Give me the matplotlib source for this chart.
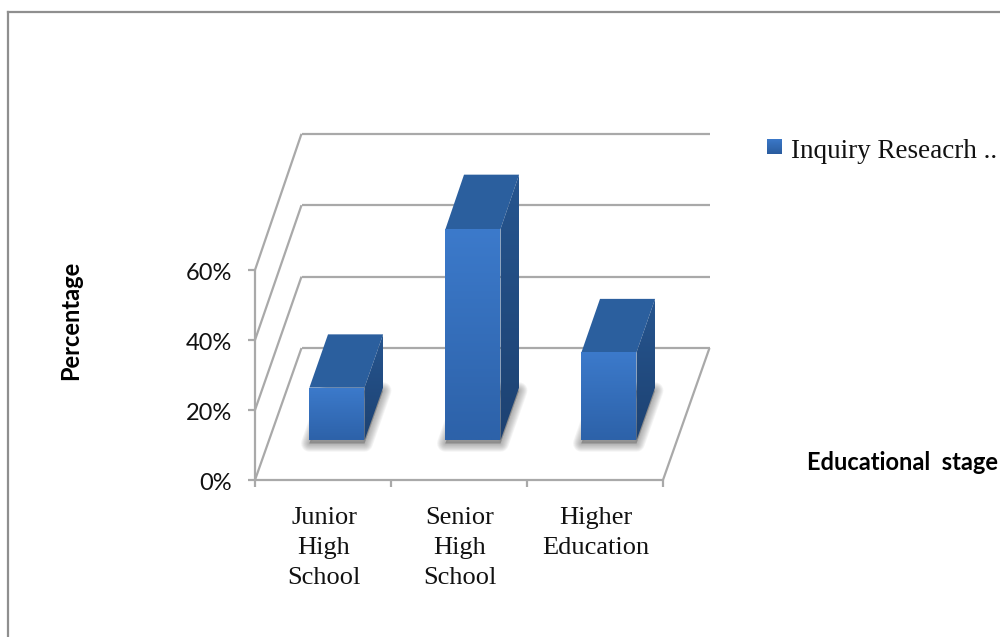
import numpy as np
import matplotlib
matplotlib.use("Agg")
import matplotlib.pyplot as plt
from matplotlib.patches import Polygon

# 教育段階ごとの割合
categories = ["Junior\nHigh\nSchool", "Senior\nHigh\nSchool", "Higher\nEducation"]
values = [15, 60, 25]
y_ticks = [0, 20, 40, 60]
y_tick_labels = ["0%", "20%", "40%", "60%"]
series_name = "Inquiry Reseacrh .."

# 1カテゴリ=136px、1%=3.5px
unit_x = 136.0
unit_y = 3.5
origin_x = 255.0
origin_y = 480.0
W, H = 1000, 637

# 奥行き方向のずれ(px)
depth_x = 46.5
depth_y = 132.0

GRID = "#a9a9a9"
FRAME = "#8f8f8f"

fig = plt.figure(figsize=(W / 100, H / 100), dpi=100)
ax = fig.add_axes([0, 0, 1, 1])
ax.set_xlim(-origin_x / unit_x, (W - origin_x) / unit_x)
ax.set_ylim(-(H - origin_y) / unit_y, origin_y / unit_y)
ax.axis("off")


# (カテゴリ, 値, 奥行き0-1) を軸の座標へ
def proj(c, v, d):
    return c + d * depth_x / unit_x, v * (1 + 0.02 * d) + d * depth_y / unit_y


def px(n):
    return n / unit_x


def py(n):
    return n / unit_y


def line(p1, p2, color=GRID, lw=1.6, z=1):
    ax.plot([p1[0], p2[0]], [p1[1], p2[1]], color=color, lw=lw, zorder=z, solid_capstyle="butt")


# グラデーションを多角形で切り抜いて塗る
def grad_poly(pts, c1, c2, z, horizontal=False):
    pts = np.array(pts)
    n = 64
    g = np.linspace(0, 1, n)
    c1 = np.array(matplotlib.colors.to_rgb(c1))
    c2 = np.array(matplotlib.colors.to_rgb(c2))
    img = c1[None, :] * (1 - g[:, None]) + c2[None, :] * g[:, None]
    img = img[None, :, :] if horizontal else img[:, None, :]
    ext = [pts[:, 0].min(), pts[:, 0].max(), pts[:, 1].min(), pts[:, 1].max()]
    im = ax.imshow(img, extent=ext, origin="upper", aspect="auto", zorder=z, interpolation="bilinear")
    clip = Polygon(pts, closed=True, transform=ax.transData, fc="none", ec="none")
    ax.add_patch(clip)
    im.set_clip_path(clip)


# 外枠
frame_l = px(8) - origin_x / unit_x
frame_t = origin_y / unit_y - py(12)
ax.plot([frame_l, frame_l], [ax.get_ylim()[0], frame_t], color=FRAME, lw=1.6, zorder=1)
ax.plot([frame_l, ax.get_xlim()[1]], [frame_t, frame_t], color=FRAME, lw=1.6, zorder=1)

n_cat = len(categories)

# 壁と床の線
for t in y_ticks:
    line(proj(0, t, 0), proj(0, t, 1))
    line(proj(0, t, 1), proj(n_cat, t, 1))
    line((px(-7), t), (0, t))
line((0, y_ticks[0]), (0, y_ticks[-1]))
line(proj(0, 0, 0), proj(n_cat, 0, 0))
line(proj(n_cat, 0, 0), proj(n_cat, 0, 1))
for i in range(n_cat + 1):
    line((i, 0), (i, -py(7)))

bar_w = 0.405
d0, d1 = 0.30, 0.70

for i, v in enumerate(values):
    l = i + 0.5 - bar_w / 2
    r = i + 0.5 + bar_w / 2

    # 足元のぼかし影
    foot = np.array([proj(l, 0, d0), proj(r, 0, d0), proj(r, 0, d1), proj(l, 0, d1)])
    foot = foot + np.array([px(0), -py(3)])
    for lw in np.linspace(12, 1, 9):
        ax.add_patch(Polygon(foot, closed=True, fc="#666666", ec="#666666", lw=lw,
                             alpha=0.07, joinstyle="round", zorder=3))

    # 上面・側面・前面
    ax.add_patch(Polygon([proj(l, v, d0), proj(r, v, d0), proj(r, v, d1), proj(l, v, d1)],
                         closed=True, fc="#2b5f9e", ec="none", zorder=4))
    grad_poly([proj(r, v, d0), proj(r, v, d1), proj(r, 0, d1), proj(r, 0, d0)],
              "#26558f", "#1d4272", 4)
    grad_poly([proj(l, v, d0), proj(r, v, d0), proj(r, 0, d0), proj(l, 0, d0)],
              "#3c7acb", "#2d62a9", 5)

    ax.text(i + 0.5 + px(1), -py(27), categories[i], ha="center", va="top",
            family="Liberation Serif", fontsize=19, linespacing=1.48, color="#111111")

# y軸の目盛り
for t, lab in zip(y_ticks, y_tick_labels):
    ax.text(px(-23), t - py(4), lab, ha="right", va="center", family="Lato",
            fontsize=17, color="#111111")

# 軸タイトル
ax.text(px(71 - origin_x), (origin_y - 320) / unit_y, "Percentage", rotation=90, ha="center",
        va="center", family="Lato", fontweight="bold", fontsize=17, color="black")
ax.text(px(807 - origin_x), (origin_y - 463) / unit_y, "Educational  stage", ha="left",
        va="center", family="Lato", fontweight="bold", fontsize=17, color="black")

# 凡例
sx0, sx1 = px(767 - origin_x), px(782 - origin_x)
sy0, sy1 = (origin_y - 154) / unit_y, (origin_y - 139) / unit_y
grad_poly([(sx0, sy1), (sx1, sy1), (sx1, sy0), (sx0, sy0)], "#3c7acb", "#2a5c9e", 5)
ax.text(px(791 - origin_x), (origin_y - 158) / unit_y, series_name, ha="left", va="baseline",
        family="Liberation Serif", fontsize=19.5, color="#111111")

ax.set_xlim(-origin_x / unit_x, (W - origin_x) / unit_x)
ax.set_ylim(-(H - origin_y) / unit_y, origin_y / unit_y)

plt.savefig("out.png", dpi=100)
